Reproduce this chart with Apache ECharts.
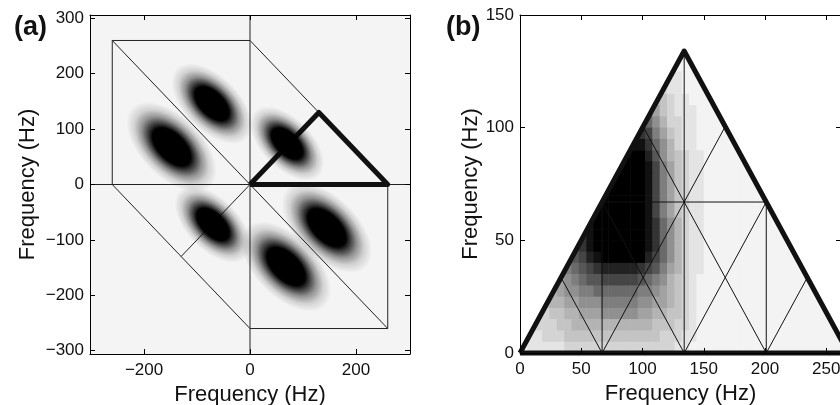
<!DOCTYPE html>
<html lang="en">
<head>
<meta charset="UTF-8">
<title>bispectrum</title>
<style>
  html, body { margin: 0; padding: 0; background: #fff; overflow: hidden; }
  #chart { width: 850px; height: 405px; }
</style>
</head>
<body>
<div id="chart"></div>
<script src="https://cdn.jsdelivr.net/npm/echarts@6/dist/echarts.min.js"></script>
<script>
// ---- panel (a): peak centres (Hz) and their relative size
var peakX = [-72, -148, 70, -70, 145, 68];
var peakY = [146, 68, 74, -72, -78, -148];
var peakSize = [1.0, 1.12, 0.92, 0.95, 1.12, 1.12];

// panel (a): thin outlines of the symmetry regions
var outlineA = [
  [[0, -306], [0, 306]],
  [[-302, 0], [302, 0]],
  [[-260, 0], [-260, 260], [0, 260]],
  [[-260, 260], [260, -260]],
  [[0, 260], [260, 0]],
  [[-260, 0], [0, -260]],
  [[0, -260], [260, -260], [260, 0]],
  [[0, 0], [-130, -130]]
];
var triangleA = [[0, 0], [130, 130], [260, 0], [0, 0]];

var ticksAx = [-200, 0, 200];
var ticksAy = [-300, -200, -100, 0, 100, 200, 300];

// ---- panel (b): principal domain and its subdivision
var triangleB = [[0, 0], [134, 134], [268, 0], [0, 0]];
var outlineB = [
  [[67, 0], [67, 67]],
  [[134, 0], [134, 134]],
  [[201, 0], [201, 67]],
  [[67, 67], [201, 67]],
  [[33.5, 33.5], [67, 0]],
  [[67, 0], [134, 67]],
  [[67, 67], [134, 0]],
  [[134, 0], [201, 67]],
  [[134, 67], [201, 0]],
  [[201, 0], [234.5, 33.5]],
  [[100.5, 100.5], [134, 67]],
  [[134, 67], [167.5, 100.5]]
];
var maskB = [
  [[0, 0], [134, 134], [134, 152], [0, 152]],
  [[134, 134], [134, 152], [290, 152], [290, 0], [268, 0]]
];

var ticksBx = [0, 50, 100, 150, 200, 250];
var ticksBy = [0, 50, 100, 150];

// panel (b) map: one hex digit per 6 Hz x 5 Hz cell (0 white .. f black), top row first
var cellW = 6, cellH = 5;
var rowsB = [
  "0000 0000 0000 0000 0000 0110 0000 0000 0000 0000 0000",
  "0000 0000 0000 0000 0000 2111 0000 0000 0000 0000 0000",
  "0000 0000 0000 0000 0000 2211 1000 0000 0000 0000 0000",
  "0000 0000 0000 0000 0003 2211 1100 0000 0000 0000 0000",
  "0000 0000 0000 0000 0054 3221 1110 0000 0000 0000 0000",
  "0000 0000 0000 0000 0864 3222 1111 0000 0000 0000 0000",
  "0000 0000 0000 0000 b975 3322 1111 0000 0000 0000 0000",
  "0000 0000 0000 000d cb86 4322 1111 1000 0000 0000 0000",
  "0000 0000 0000 000e ec97 5322 1111 1100 0000 0000 0000",
  "0000 0000 0000 00ff fda7 5432 2111 1110 0000 0000 0000",
  "0000 0000 0000 0fff feb8 6432 2111 1111 0000 0000 0000",
  "0000 0000 0000 ffff feb8 6432 2111 1111 1000 0000 0000",
  "0000 0000 000f ffff feb8 6432 2111 1111 1000 0000 0000",
  "0000 0000 00ff ffff feb8 6432 2111 1111 1100 0000 0000",
  "0000 0000 00ff ffff feb8 6432 2111 1111 1110 0000 0000",
  "0000 0000 0eff ffff fec9 7532 2111 1111 1111 0000 0000",
  "0000 0000 ceff ffff fec9 7532 2111 1111 1111 1000 0000",
  "0000 000a ceff ffff fec9 7532 2111 1111 1111 1100 0000",
  "0000 008a bdef ffff fdb9 7532 2111 1111 1111 1100 0000",
  "0000 0789 abcd dddd cba8 6532 2111 1111 1111 1110 0000",
  "0000 0678 9aab bbbb a987 5432 1111 1111 1111 1111 0000",
  "0000 5677 8899 9999 8876 5432 1111 1111 1111 1111 1000",
  "0004 5566 7778 8888 7766 5432 1111 1111 1111 1111 1100",
  "0033 4455 6667 7777 6655 4432 1111 1111 1111 1111 1110",
  "0233 3445 5555 5555 5544 4332 1111 1111 1111 1111 1110",
  "2223 3344 4444 4444 4443 3322 1111 1111 1111 1111 1111",
  "1222 2233 3333 3333 3333 3221 1111 1111 1111 1111 1111"
];

var shade = ['#ffffff', '#f3f3f3', '#e4e4e4', '#d4d4d4', '#c4c4c4', '#b4b4b4', '#a2a2a2', '#909090',
             '#7e7e7e', '#6a6a6a', '#575757', '#454545', '#333333', '#222222', '#111111', '#000000'];

var cellsB = [];
rowsB.forEach(function (row, k) {
  var j = rowsB.length - 1 - k;
  row.replace(/ /g, '').split('').forEach(function (ch, i) {
    var v = parseInt(ch, 16);
    if (v > 0) cellsB.push([i * cellW, j * cellH, v]);
  });
});

var font = 'Liberation Sans, Arial, Helvetica, sans-serif';

function minus(v) { return String(v).replace('-', '\u2212'); }

function polyRenderer(list, width, color, fill) {
  return function (params, api) {
    var pts = list[params.dataIndex].map(function (p) { return api.coord(p); });
    return {
      type: fill ? 'polygon' : 'polyline',
      shape: { points: pts },
      style: { stroke: fill ? null : color, fill: fill || null, lineWidth: width, lineJoin: 'round' },
      silent: true
    };
  };
}

function idx(list) { return list.map(function (s, i) { return [i]; }); }

function xAx(grid, min, max, pos, ticks, labels, name) {
  return {
    type: 'value', gridIndex: grid, min: min, max: max, position: pos, z: 10,
    name: name || '', nameLocation: 'middle', nameGap: 26,
    nameTextStyle: { fontFamily: font, fontSize: 22, color: '#111' },
    axisLine: { show: true, onZero: false, lineStyle: { color: '#000', width: 1 } },
    axisTick: { show: true, inside: true, length: 5, customValues: ticks, lineStyle: { color: '#000' } },
    axisLabel: { show: labels, customValues: ticks, formatter: minus, margin: 8,
                 fontFamily: font, fontSize: 17, color: '#111' },
    splitLine: { show: false }
  };
}

function yAx(grid, min, max, pos, ticks, labels, name, gap) {
  return {
    type: 'value', gridIndex: grid, min: min, max: max, position: pos, z: 10,
    name: name || '', nameLocation: 'middle', nameGap: gap || 40,
    nameTextStyle: { fontFamily: font, fontSize: 22, color: '#111' },
    axisLine: { show: true, onZero: false, lineStyle: { color: '#000', width: 1 } },
    axisTick: { show: true, inside: true, length: 5, customValues: ticks, lineStyle: { color: '#000' } },
    axisLabel: { show: labels, customValues: ticks, formatter: minus, margin: 6,
                 fontFamily: font, fontSize: 17, color: '#111' },
    splitLine: { show: false }
  };
}

var peaks = peakX.map(function (x, i) { return [x, peakY[i], peakSize[i]]; });

// elliptical fade of a peak (radial gradient follows the scaled symbol)
var peakFill = {
  type: 'radial', x: 0.5, y: 0.5, r: 0.5,
  colorStops: [
    { offset: 0, color: 'rgba(0,0,0,1)' },
    { offset: 0.42, color: 'rgba(0,0,0,1)' },
    { offset: 0.52, color: 'rgba(0,0,0,0.74)' },
    { offset: 0.66, color: 'rgba(0,0,0,0.4)' },
    { offset: 0.82, color: 'rgba(0,0,0,0.14)' },
    { offset: 1, color: 'rgba(0,0,0,0)' }
  ]
};

var chart = echarts.init(document.getElementById('chart'));
chart.setOption({
  animation: false,
  backgroundColor: '#fff',
  title: [
    { text: '(a)', left: 9, top: 9, textStyle: { fontFamily: font, fontSize: 27, fontWeight: 'bold', color: '#111' } },
    { text: '(b)', left: 441, top: 9, textStyle: { fontFamily: font, fontSize: 27, fontWeight: 'bold', color: '#111' } }
  ],
  grid: [
    { left: 90, right: 440, top: 15, bottom: 51, show: true, backgroundColor: '#f4f4f4', borderWidth: 0,
      containLabel: false, outerBoundsMode: 'none' },
    { left: 520, right: 9, top: 15, bottom: 52, show: true, backgroundColor: '#fff', borderWidth: 0,
      containLabel: false, outerBoundsMode: 'none' }
  ],
  xAxis: [
    xAx(0, -302, 302, 'bottom', ticksAx, true, 'Frequency (Hz)'),
    xAx(0, -302, 302, 'top', ticksAx, false),
    xAx(1, 0, 262, 'bottom', ticksBx, true, 'Frequency (Hz)'),
    xAx(1, 0, 262, 'top', ticksBx, false)
  ],
  yAxis: [
    yAx(0, -306, 306, 'left', ticksAy, true, 'Frequency (Hz)', 51),
    yAx(0, -306, 306, 'right', ticksAy, false),
    yAx(1, 0, 150, 'left', ticksBy, true, 'Frequency (Hz)', 38),
    yAx(1, 0, 150, 'right', ticksBy, false)
  ],
  series: [
    {
      type: 'scatter', xAxisIndex: 0, yAxisIndex: 0, silent: true,
      data: peaks,
      symbol: 'circle',
      symbolSize: function (v) { return [100 * v[2], 55 * v[2]]; },
      symbolRotate: -45,
      itemStyle: { color: peakFill, opacity: 1 }
    },
    {
      type: 'custom', xAxisIndex: 0, yAxisIndex: 0, silent: true,
      data: idx(outlineA), renderItem: polyRenderer(outlineA, 1, '#222')
    },
    {
      type: 'custom', xAxisIndex: 0, yAxisIndex: 0, silent: true,
      data: [[0]], renderItem: polyRenderer([triangleA], 5, '#111')
    },
    // panel (b)
    {
      type: 'custom', xAxisIndex: 2, yAxisIndex: 2, silent: true,
      data: cellsB,
      renderItem: function (params, api) {
        var p0 = api.coord([api.value(0), api.value(1) + cellH]);
        var p1 = api.coord([api.value(0) + cellW, api.value(1)]);
        return {
          type: 'rect',
          shape: { x: p0[0], y: p0[1], width: p1[0] - p0[0] + 0.6, height: p1[1] - p0[1] + 0.6 },
          style: { fill: shade[api.value(2)] }
        };
      }
    },
    {
      type: 'custom', xAxisIndex: 2, yAxisIndex: 2, silent: true,
      data: idx(maskB), renderItem: polyRenderer(maskB, 0, null, '#fff')
    },
    {
      type: 'custom', xAxisIndex: 2, yAxisIndex: 2, silent: true,
      data: idx(outlineB), renderItem: polyRenderer(outlineB, 1, '#111')
    },
    {
      type: 'custom', xAxisIndex: 2, yAxisIndex: 2, silent: true,
      data: [[0]], renderItem: polyRenderer([triangleB], 5, '#111')
    }
  ]
});
</script>
</body>
</html>
